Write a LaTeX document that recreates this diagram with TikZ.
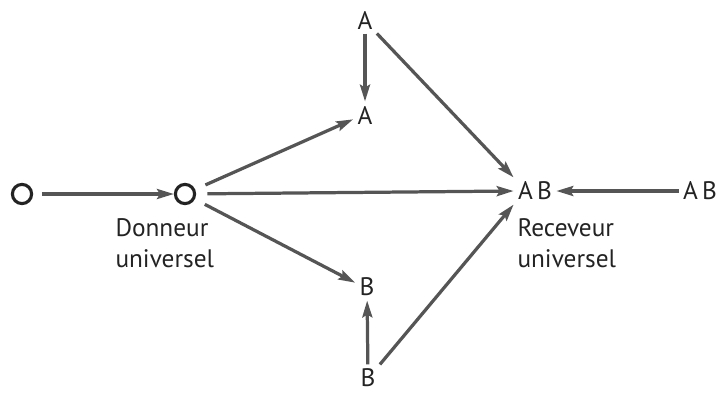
\documentclass[tikz,border=0pt]{standalone}
\usepackage{fontspec}
\setmainfont{PT Sans}
\usepackage{tikz}
\usetikzlibrary{arrows.meta,positioning}
\definecolor{linegray}{RGB}{85,85,85}
\definecolor{txtgray}{RGB}{35,35,35}
\tikzset{
  lbl/.style={text=txtgray,inner sep=3pt,font=\fontsize{18}{21}\selectfont},
  note/.style={lbl,align=left,font=\fontsize{18}{22}\selectfont},
  onode/.style={circle,draw=txtgray,line width=2.2pt,minimum size=0.48cm,inner sep=0pt},
  flow/.style={-{Stealth[length=0.42cm,width=0.25cm,inset=0.07cm]},line width=2.3pt,color=linegray}
}
\begin{document}
\begin{tikzpicture}[x=0.025cm,y=-0.025cm]
  \useasboundingbox (0,0) rectangle (728,403);
  % groupes sanguins
  \node[onode] (oLeft) at (22,194) {};
  \node[onode] (oDon) at (185,194) {};
  \node[lbl] (aTop) at (365,20) {A};
  \node[lbl] (aMid) at (365,115) {A};
  \node[lbl] (bMid) at (367,287) {B};
  \node[lbl] (bBot) at (368,378) {B};
  \node[lbl] (abRec) at (535,191) {A\,B};
  \node[lbl] (abRight) at (700,191) {A\,B};
  \node[note,anchor=north west] (donLbl) at (111,214) {Donneur\\universel};
  \node[note,anchor=north west] (recLbl) at (513,214) {Receveur\\universel};

  \draw[flow,shorten <=0.22cm] (oLeft) -- (oDon);
  \draw[flow,shorten <=0.28cm] (oDon) -- (aMid.200);
  \draw[flow,shorten <=0.28cm] (oDon) -- (abRec.west);
  \draw[flow,shorten <=0.28cm] (oDon) -- (bMid.160);
  \draw[flow] (aTop) -- (aMid);
  \draw[flow] (bBot) -- (bMid);
  \draw[flow] (aTop.south east) -- (abRec.north west);
  \draw[flow] (bBot.north east) -- (abRec.south west);
  \draw[flow] (abRight) -- (abRec);
\end{tikzpicture}
\end{document}
